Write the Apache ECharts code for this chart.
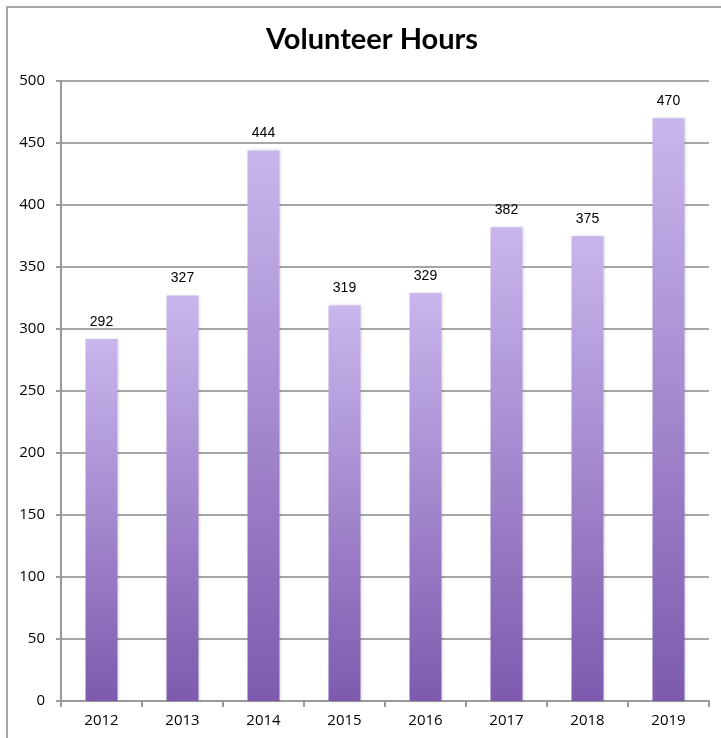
<!DOCTYPE html>
<html>
<head>
<meta charset="utf-8">
<script src="https://cdn.jsdelivr.net/npm/echarts@6/dist/echarts.min.js"></script>
<style>
  html, body { margin: 0; padding: 0; background: #fff; }
  #chart { width: 721px; height: 738px; }
</style>
</head>
<body>
<div id="chart"></div>
<script>
const years = ['2012', '2013', '2014', '2015', '2016', '2017', '2018', '2019'];
const hours = [292, 327, 444, 319, 329, 382, 375, 470];

const chart = echarts.init(document.getElementById('chart'));

chart.setOption({
  animation: false,
  backgroundColor: '#fff',
  graphic: [{
    type: 'rect',
    shape: { x: 7, y: 7, width: 760, height: 780 },
    style: { fill: 'none', stroke: '#a6a6a6', lineWidth: 2 },
    silent: true
  }],
  title: {
    text: 'Volunteer Hours',
    left: 367,
    top: 20,
    textAlign: 'center',
    textStyle: { fontFamily: 'Lato', fontWeight: 'bold', fontSize: 29, color: '#000' }
  },
  grid: { left: 61, right: 12, top: 81, bottom: 37 },
  xAxis: {
    type: 'category',
    data: years,
    axisLine: { lineStyle: { color: '#9a9a9a', width: 2 } },
    axisTick: { show: true, length: 6, lineStyle: { color: '#9a9a9a', width: 2 } },
    axisLabel: { color: '#000', fontSize: 15, fontFamily: 'Open Sans', margin: 12 }
  },
  yAxis: {
    type: 'value',
    min: 0,
    max: 500,
    interval: 50,
    axisLine: { show: true, lineStyle: { color: '#9a9a9a', width: 2 } },
    axisTick: { show: true, length: 5, lineStyle: { color: '#9a9a9a', width: 2 } },
    splitLine: { lineStyle: { color: '#a6a6a6', width: 2 } },
    axisLabel: { color: '#000', fontSize: 15, fontFamily: 'Open Sans', margin: 16 }
  },
  series: [{
    type: 'bar',
    data: hours,
    barWidth: 32,
    itemStyle: {
      color: new echarts.graphic.LinearGradient(0, 0, 0, 1, [
        { offset: 0, color: '#c9b6ed' },
        { offset: 1, color: '#7d5aae' }
      ]),
      shadowColor: 'rgba(0,0,0,0.15)',
      shadowBlur: 3,
      shadowOffsetX: 1
    },
    label: {
      show: true,
      position: 'top',
      distance: 10,
      color: '#000',
      fontSize: 14,
      fontFamily: 'Liberation Sans'
    }
  }]
});
</script>
</body>
</html>
